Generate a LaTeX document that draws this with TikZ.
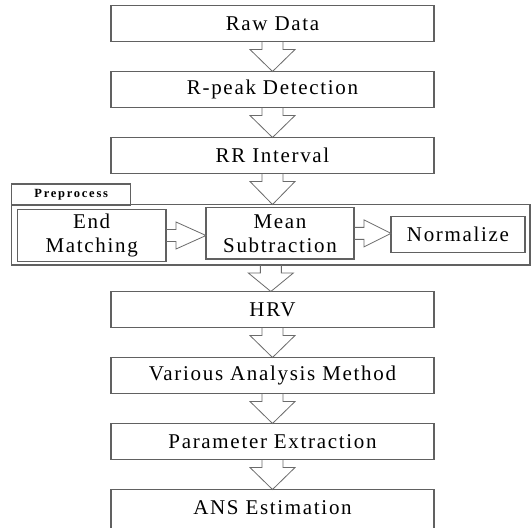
\documentclass[tikz,border=0pt]{standalone}
\usepackage{fontspec}
\setmainfont{Liberation Serif}[LetterSpace=8]
\newfontfamily\tabfont{Liberation Serif}[LetterSpace=14]
\usetikzlibrary{calc}
\tikzset{
  box/.style={draw=black!62, line width=1.2pt, fill=white, inner sep=0pt, outer sep=0pt,
    minimum width=323pt, minimum height=36pt, font=\fontsize{21}{24}\selectfont, align=center},
  subbox/.style={draw=black!62, line width=1.2pt, fill=white, inner sep=0pt, outer sep=0pt,
    font=\fontsize{21}{24}\selectfont, align=center},
  frame/.style={draw=black!62, line width=1.2pt, inner sep=0pt, outer sep=0pt},
  barrow/.style={draw=black!58, line width=0.8pt, line join=miter},
}
\newcommand\varrow[2]{%
  \draw[barrow] ($(#1.south)+(-10.5,0)$) -- ++(0,8) -- ++(-12,0) -- (#1.south |- #2.north)
    -- ($(#1.south)+(22.5,8)$) -- ++(-12,0) -- ++(0,-8);}
\newcommand\harrow[2]{%
  \draw[barrow] ($(#1.east)+(0,-6)$) -- ++(10,0) -- ++(0,-7.5) -- (#2.west |- #1.east)
    -- ($(#1.east)+(10,13.5)$) -- ++(0,-7.5) -- ++(-10,0);}
\begin{document}
\begin{tikzpicture}[x=1pt,y=-1pt]
\useasboundingbox (0,0) rectangle (531,528);
\clip (0,0) rectangle (531,528);
\fill[white] (0,0) rectangle (531,528);
% main column
\node[box] (raw) at (272.5,23.5) {Raw Data};
\node[box] (rpeak) at (272.5,89.5) {R-peak Detection};
\node[box] (rr) at (272.5,155.5) {RR Interval};
% preprocess frame
\node[frame, minimum width=518.3pt, minimum height=60.5pt] (pre) at (270.85,234.75) {};
\node[frame, minimum width=119pt, minimum height=21pt, font=\tabfont\bfseries\fontsize{12.5}{14}\selectfont]
  (tab) at (71.2,194.5) {Preprocess};
\node[subbox, minimum width=148.7pt, minimum height=52.4pt] (endm) at (91.65,235.5) {End\\Matching};
\node[subbox, minimum width=148pt, minimum height=51.3pt] (mean) at (280,233.35) {Mean\\Subtraction};
\node[subbox, minimum width=134pt, minimum height=36pt] (norm) at (458,234.7) {Normalize};
% lower column
\node[box] (hrv) at (272.5,309.5) {HRV};
\node[box] (various) at (272.5,375.5) {Various Analysis Method};
\node[box] (param) at (272.5,441.5) {Parameter Extraction};
\node[box, minimum height=44pt] (ans) at (272.5,511.5) {};
\node[font=\fontsize{21}{24}\selectfont] at (272.5,507.5) {ANS Estimation};
% connectors
\varrow{raw}{rpeak}
\varrow{rpeak}{rr}
\varrow{rr}{pre}
\harrow{endm}{mean}
\harrow{mean}{norm}
\varrow{pre}{hrv}
\varrow{hrv}{various}
\varrow{various}{param}
\varrow{param}{ans}
\end{tikzpicture}
\end{document}
